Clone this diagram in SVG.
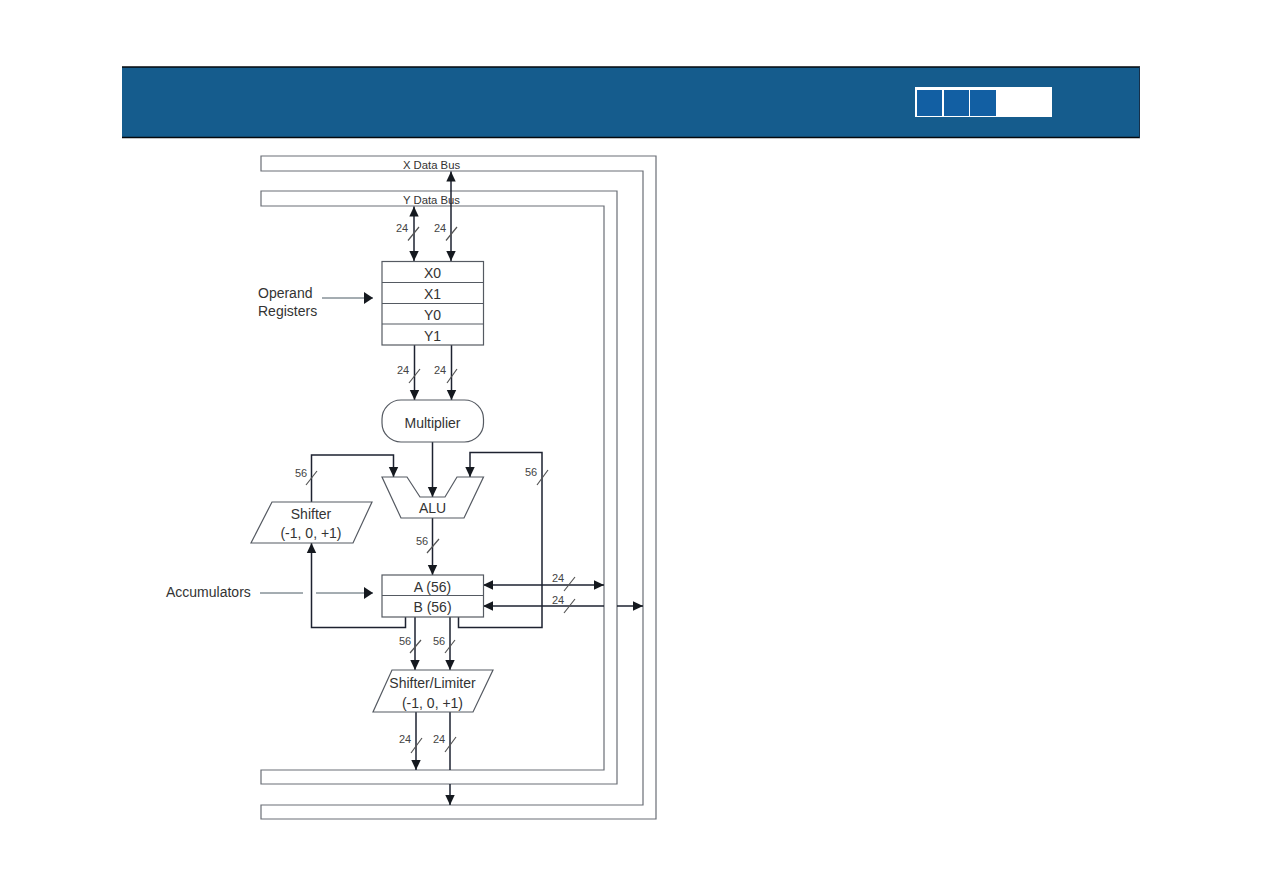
<svg xmlns="http://www.w3.org/2000/svg" width="1263" height="894" viewBox="0 0 1263 894">
  <style>
    text { font-family: "Liberation Sans", Arial, sans-serif; fill: #333; }
    .lg { font-size: 14px; }
    .md { font-size: 11.3px; }
    .sm { font-size: 11px; fill: #444; }
    .c { text-anchor: middle; }
    .box { fill: #fff; stroke: #555a62; stroke-width: 1.2; }
    .bus { fill: none; stroke: #6a6e76; stroke-width: 1.2; }
    .wire { fill: none; stroke: #1d2230; stroke-width: 1.5; }
    .thin { fill: none; stroke: #4a5a65; stroke-width: 1; }
    .tick { fill: none; stroke: #555; stroke-width: 1.2; }
    .arrow { marker-end: url(#head); }
    .both { marker-start: url(#head); marker-end: url(#head); }
  </style>
  <defs>
    <marker id="head" markerUnits="userSpaceOnUse" markerWidth="11" markerHeight="11" refX="10" refY="5.500" orient="auto-start-reverse">
      <path d="M0 0.800 L10 5.500 L0 10.200 Z" fill="#15191f"/>
    </marker>
    <marker id="bighead" markerUnits="userSpaceOnUse" markerWidth="10" markerHeight="14" refX="9" refY="7" orient="auto">
      <path d="M0 1 L9 7 L0 13 Z" fill="#15191f"/>
    </marker>
  </defs>

  <rect width="1263" height="894" fill="#fff"/>

  <!-- Title band with progress squares -->
  <g id="header">
    <rect x="122" y="67" width="1018" height="71" fill="#155c8d"/>
    <path d="M122 67 H1140 M122 137.500 H1140" stroke="#05090d" stroke-width="1.500" fill="none"/>
    <path d="M1139.500 67 V138" stroke="#16304a" stroke-width="1" fill="none"/>
    <rect x="915" y="87" width="137" height="30" fill="#fff"/>
    <rect x="917" y="90" width="25" height="26" fill="#125fa3"/>
    <rect x="944" y="90" width="25" height="26" fill="#125fa3"/>
    <rect x="970" y="90" width="26" height="26" fill="#125fa3"/>
  </g>

  <!-- Data buses wrapping round the datapath -->
  <g id="x-data-bus">
    <path class="bus" d="M261 171 V156 H656 V819 H261 V805 H643 V171 Z"/>
    <text class="md c" x="431.500" y="169">X Data Bus</text>
  </g>
  <g id="y-data-bus">
    <path class="bus" d="M261 206 V191 H617 V784 H261 V770 H604 V206 Z"/>
    <text class="md c" x="431.500" y="204">Y Data Bus</text>
  </g>

  <!-- Connectors -->
  <g id="connectors">
    <path class="wire both" d="M414 206.500 V261"/>
    <path class="wire both" d="M451 171.500 V261"/>
    <path class="wire arrow" d="M414.500 345 V400"/>
    <path class="wire arrow" d="M451.500 345 V400"/>
    <path class="wire arrow" d="M432.500 442 V497"/>
    <path class="wire arrow" d="M432.500 518 V575"/>
    <path class="wire arrow" d="M311.500 502 V455 H393.500 V477"/>
    <path class="wire arrow" d="M458.500 617 V627.500 H542 V452.500 H470 V477"/>
    <path class="wire arrow" d="M405.500 617 V627.500 H311.500 V543"/>
    <path class="wire both" d="M483 585 H604"/>
    <path class="wire" d="M483 606 H604" marker-start="url(#head)"/>
    <path class="wire arrow" d="M617 606 H643"/>
    <path class="wire arrow" d="M415 617 V670"/>
    <path class="wire arrow" d="M450 617 V670"/>
    <path class="wire arrow" d="M416 712 V770"/>
    <path class="wire" d="M450 712 V770"/>
    <path class="wire arrow" d="M450 784 V805"/>
    <path class="thin" d="M322 298 H373" marker-end="url(#bighead)"/>
    <path class="thin" d="M260 593 H303 M316 593 H373" marker-end="url(#bighead)"/>

    <path class="tick" d="M408 240.500 L419 227 M446 240.500 L457 227 M409 383 L420 369 M447 383 L457 369 M306 485 L317 471 M537 485 L548 470 M427 553 L439 539 M564 591 L575 577 M564 613 L575 599 M410 653 L421 640 M445 653 L455 640 M411 753 L422 738 M445 752 L456 737"/>
    <text class="sm" x="396" y="232">24</text>
    <text class="sm" x="434" y="232">24</text>
    <text class="sm" x="397" y="374">24</text>
    <text class="sm" x="434" y="374">24</text>
    <text class="sm" x="295" y="477">56</text>
    <text class="sm" x="525" y="476">56</text>
    <text class="sm" x="416" y="545">56</text>
    <text class="sm" x="552" y="582">24</text>
    <text class="sm" x="552" y="604">24</text>
    <text class="sm" x="399" y="645">56</text>
    <text class="sm" x="433" y="645">56</text>
    <text class="sm" x="399" y="743">24</text>
    <text class="sm" x="433" y="743">24</text>
  </g>

  <!-- Register file and functional units -->
  <g id="operand-registers">
    <rect class="box" x="382" y="261.500" width="101.500" height="83.500"/>
    <path class="box" d="M382 282.500 H483.500 M382 303.500 H483.500 M382 324 H483.500"/>
    <text class="lg c" x="432.500" y="278">X0</text>
    <text class="lg c" x="432.500" y="299">X1</text>
    <text class="lg c" x="432.500" y="320">Y0</text>
    <text class="lg c" x="432.500" y="341">Y1</text>
  </g>
  <g id="operand-label">
    <text class="lg" x="258" y="298">Operand</text>
    <text class="lg" x="258" y="316">Registers</text>
  </g>
  <g id="multiplier">
    <rect class="box" x="382" y="400" width="101.500" height="42" rx="19" ry="19"/>
    <text class="lg c" x="432.500" y="428">Multiplier</text>
  </g>
  <g id="alu">
    <path class="box" d="M382 477 H407 L420 497 H445 L457 477 H483.500 L464 518 H401 Z"/>
    <text class="lg c" x="432.500" y="513">ALU</text>
  </g>
  <g id="shifter">
    <path class="box" d="M272 502 H372 L353 543 H251 Z"/>
    <text class="lg c" x="311" y="519">Shifter</text>
    <text class="lg c" x="311" y="538">(-1, 0, +1)</text>
  </g>
  <g id="accumulators">
    <rect class="box" x="382" y="575" width="101.500" height="42"/>
    <path class="box" d="M382 595.500 H483.500"/>
    <text class="lg c" x="432.500" y="592">A (56)</text>
    <text class="lg c" x="432.500" y="612">B (56)</text>
  </g>
  <g id="accumulators-label">
    <text class="lg" x="166" y="597">Accumulators</text>
  </g>
  <g id="shifter-limiter">
    <path class="box" d="M392 670 H493 L473 712 H373 Z"/>
    <text class="lg c" x="432.500" y="688">Shifter/Limiter</text>
    <text class="lg c" x="432.500" y="708">(-1, 0, +1)</text>
  </g>
</svg>
